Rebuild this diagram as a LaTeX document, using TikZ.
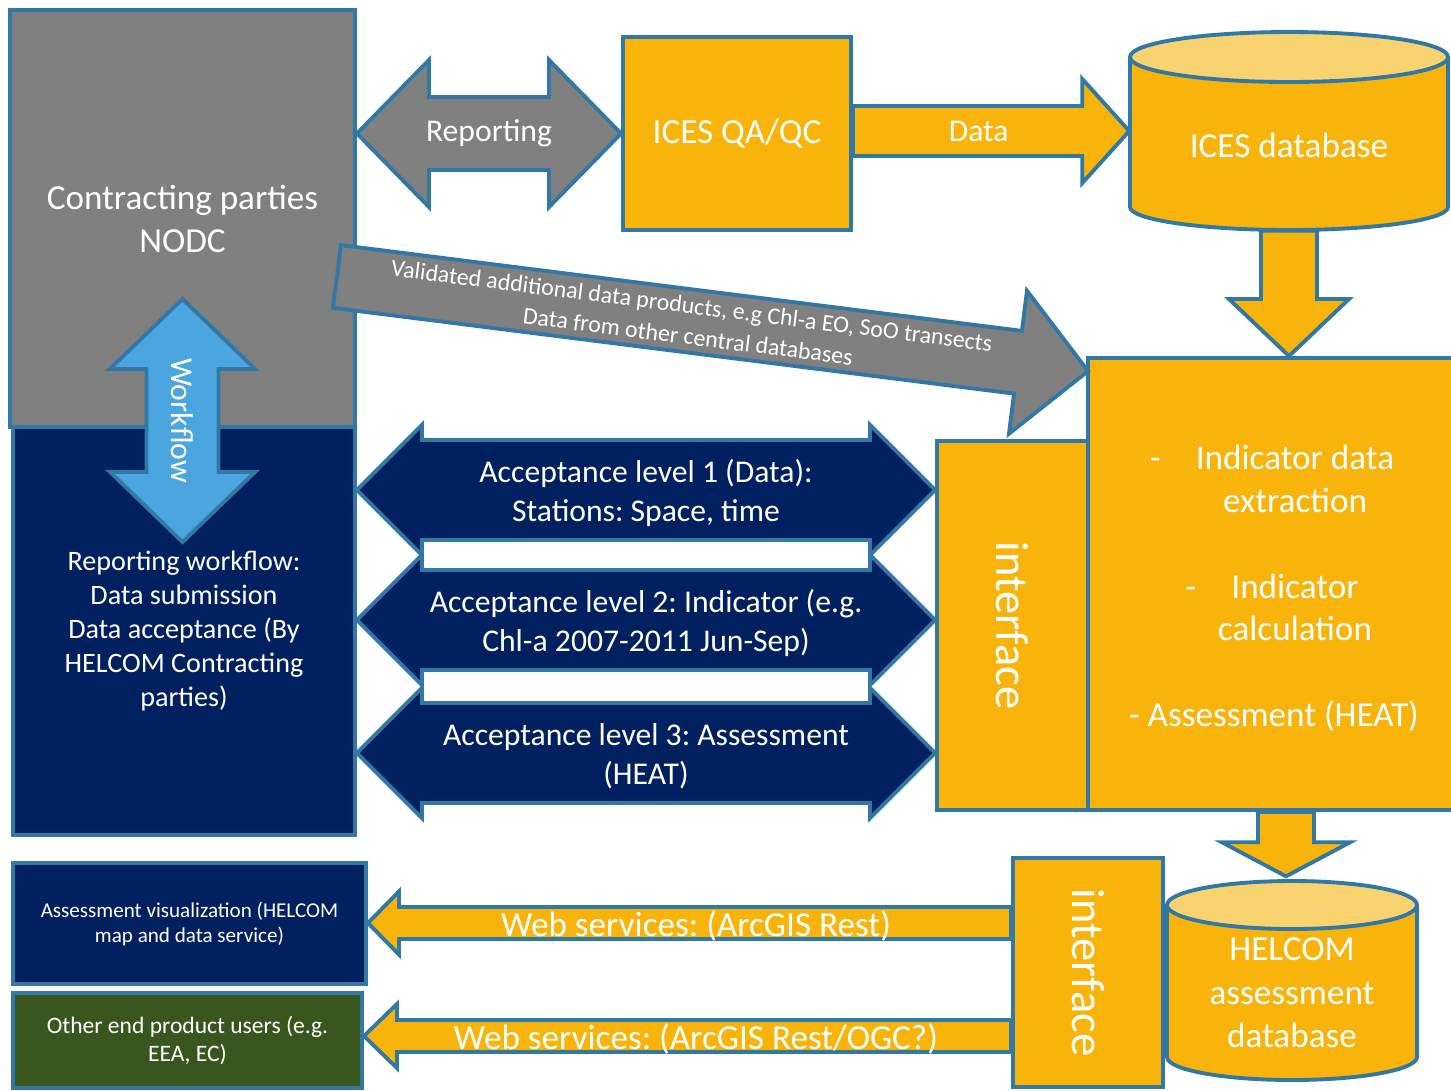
\documentclass[tikz,border=0pt]{standalone}
\usepackage{fontspec}
\setmainfont{Carlito}
\frenchspacing
\usetikzlibrary{calc,fit}

\definecolor{edge}{RGB}{50,120,165}
\definecolor{gold}{RGB}{248,180,10}
\definecolor{goldlight}{RGB}{249,211,112}
\definecolor{navy}{RGB}{0,32,96}
\definecolor{greyfill}{RGB}{128,128,128}
\definecolor{sky}{RGB}{75,165,222}
\definecolor{leaf}{RGB}{56,86,30}

\tikzset{
  box/.style={draw=edge, line width=1.1pt, inner sep=0pt},
  blk/.style={draw=edge, line width=1.1pt, line join=miter},
  lbl/.style={text=white, align=center, inner sep=0pt},
  txtL/.style={font=\fontsize{10}{12.2}\selectfont},
  txtM/.style={font=\fontsize{9}{11.1}\selectfont},
  txtS/.style={font=\fontsize{8}{9.7}\selectfont},
}

% block arrow: [style]{from}{to}{shaft half width}{head half width}{head length}
\newcommand\blockarrow[6][]{%
  \path ($(#3)!#6!(#2)$) coordinate (ba-hb);
  \draw[blk,#1] ($(#2)!#4!90:(#3)$) -- ($(ba-hb)!#4!90:(#3)$)
    -- ($(ba-hb)!#5!90:(#3)$) -- (#3) -- ($(ba-hb)!#5!-90:(#3)$)
    -- ($(ba-hb)!#4!-90:(#3)$) -- ($(#2)!#4!-90:(#3)$) -- cycle;
}
% same with a head at both ends
\newcommand\dblarrow[6][]{%
  \path ($(#2)!#6!(#3)$) coordinate (da-a) ($(#3)!#6!(#2)$) coordinate (da-b);
  \draw[blk,#1] (#2) -- ($(da-a)!#5!90:(#3)$) -- ($(da-a)!#4!90:(#3)$)
    -- ($(da-b)!#4!90:(#3)$) -- ($(da-b)!#5!90:(#3)$) -- (#3)
    -- ($(da-b)!#5!-90:(#3)$) -- ($(da-b)!#4!-90:(#3)$)
    -- ($(da-a)!#4!-90:(#3)$) -- ($(da-a)!#5!-90:(#3)$) -- cycle;
}

\begin{document}
\begin{tikzpicture}[x=0.01cm, y=-0.01cm]
  \useasboundingbox[fill=white] (0,0) rectangle (1451,1090);

  % boxes
  \node[box, fill=greyfill, fit={(10,10) (355,427)}] (nodc) {};
  \node[lbl, txtL] (nodc-lbl) at (nodc) {Contracting parties\\NODC};
  \node[box, fill=navy, fit={(13,427) (355,835)}] (rwf) {};
  \node[lbl, txtS] (rwf-lbl) at (rwf) {Reporting workflow:\\Data submission\\Data acceptance (By\\HELCOM Contracting\\parties)};
  \node[box, fill=gold, fit={(623,37) (851,230)}] (qaqc) {};
  \node[lbl, txtL] (qaqc-lbl) at (qaqc) {ICES QA/QC};
  \node[box, fill=gold, fit={(1088,358) (1502,810)}] (calc) {};
  \node[lbl, txtL, yshift=-1.2pt] (calc-lbl) at (calc) {\llap{-\hspace{10pt}}Indicator data\\extraction\\\strut\\\llap{-\hspace{10pt}}Indicator\\calculation\\\strut\\- Assessment (HEAT)\hspace*{12pt}};
  \node[box, fill=gold, fit={(937,441) (1088,810)}] (iface1) {};
  \node[lbl, rotate=-90, font=\fontsize{13.2}{16}\selectfont] (iface1-lbl) at (iface1) {interface};

  % ICES database
  \node[inner sep=0pt, fit={(1130,32) (1448,230)}] (icesdb) {};
  \draw[blk, fill=gold] (1130,57) -- (1130,207) arc[start angle=180, end angle=0, x radius=159, y radius=23] -- (1448,57);
  \draw[blk, fill=goldlight] (1289,57) ellipse [x radius=159, y radius=25];
  \node[lbl, txtL] (icesdb-lbl) at (1289,145) {ICES database};

  % top arrows
  \coordinate (rep-a) at (nodc.east |- qaqc.west);
  \coordinate (rep-b) at (qaqc.west);
  \dblarrow[fill=greyfill]{rep-a}{rep-b}{0.365cm}{0.735cm}{0.72cm}
  \path (rep-a) -- node[lbl, txtM] (rep-lbl) {Reporting} (rep-b);

  \coordinate (data-a) at (qaqc.east |- icesdb.west);
  \coordinate (data-b) at (icesdb.west);
  \blockarrow[fill=gold]{data-a}{data-b}{0.25cm}{0.52cm}{0.47cm}
  \path (data-a) -- node[lbl, txtM, pos=0.455] (data-lbl) {Data} (data-b);

  \coordinate (dn1-a) at (icesdb.south);
  \coordinate (dn1-b) at (icesdb.south |- calc.north);
  \blockarrow[fill=gold]{dn1-a}{dn1-b}{0.28cm}{0.6cm}{0.57cm}

  \coordinate (val-a) at ($(nodc.east)+(-20,58)$);
  \coordinate (val-b) at ($(calc.north west)+(2,15)$);
  \blockarrow[fill=greyfill]{val-a}{val-b}{0.316cm}{0.72cm}{0.706cm}
  \path (val-a) -- node[lbl, sloped, pos=0.47, font=\fontsize{6.8}{8.8}\selectfont] (val-lbl) {Validated additional data products, e.g Chl-a EO, SoO transects\\Data from other central databases} (val-b);

  \coordinate (wf-a) at ($(nodc.south)+(0,-130)$);
  \coordinate (wf-b) at ($(nodc.south)+(0,113)$);
  \dblarrow[fill=sky]{wf-a}{wf-b}{0.36cm}{0.725cm}{0.70cm}
  \path (wf-a) -- node[lbl, txtM, rotate=-90] (wf-lbl) {Workflow} (wf-b);

  % acceptance levels
  \foreach \y/\txt [count=\i] in {490/{Acceptance level 1 (Data):\\Stations: Space, time},
      620/{Acceptance level 2: Indicator (e.g.\\Chl-a 2007-2011 Jun-Sep)},
      753/{Acceptance level 3: Assessment\\(HEAT)}}{
    \coordinate (acc\i-a) at (rwf.east |- 0,\y);
    \coordinate (acc\i-b) at (iface1.west |- 0,\y);
    \dblarrow[fill=navy]{acc\i-a}{acc\i-b}{0.50cm}{0.65cm}{0.65cm}
    \path (acc\i-a) -- node[lbl, txtM, yshift=-0.8pt] (acc\i-lbl) {\txt} (acc\i-b);
  }

  % end products
  \node[box, fill=navy, fit={(13,863) (366,984)}] (vis) {};
  \node[lbl, font=\fontsize{6}{7.1}\selectfont] (vis-lbl) at (vis) {Assessment visualization (HELCOM\\map and data service)};
  \node[box, fill=leaf, fit={(13,993) (362,1088)}] (other) {};
  \node[lbl, font=\fontsize{6.7}{8}\selectfont] (other-lbl) at (other) {Other end product users (e.g.\\EEA, EC)};
  \node[box, fill=gold, fit={(1013,858) (1163,1087)}] (iface2) {};
  \node[lbl, rotate=-90, font=\fontsize{13.2}{16}\selectfont] (iface2-lbl) at (iface2) {interface};

  % HELCOM assessment database
  \node[inner sep=0pt, fit={(1167,880) (1417,1080)}] (helcomdb) {};
  \draw[blk, fill=gold] (1167,905) -- (1167,1057) arc[start angle=180, end angle=0, x radius=125, y radius=23] -- (1417,905);
  \draw[blk, fill=goldlight] (1292,905) ellipse [x radius=125, y radius=24];
  \node[lbl, font=\fontsize{10}{12.4}\selectfont] (helcomdb-lbl) at (1292,993) {HELCOM\\assessment\\database};

  \coordinate (dn2-b) at ($(helcomdb.north)+(-6,-3)$);
  \coordinate (dn2-a) at (dn2-b |- calc.south);
  \blockarrow[fill=gold]{dn2-a}{dn2-b}{0.28cm}{0.64cm}{0.34cm}

  \coordinate (web1-a) at (iface2.west |- 0,923);
  \coordinate (web1-b) at (vis.east |- 0,923);
  \blockarrow[fill=gold]{web1-a}{web1-b}{0.16cm}{0.315cm}{0.31cm}
  \path (web1-a) -- node[lbl, txtL, pos=0.49, yshift=-0.8pt] (web1-lbl) {Web services: (ArcGIS Rest)} (web1-b);

  \coordinate (web2-a) at (iface2.west |- 0,1036);
  \coordinate (web2-b) at (other.east |- 0,1036);
  \blockarrow[fill=gold]{web2-a}{web2-b}{0.16cm}{0.32cm}{0.33cm}
  \path (web2-a) -- node[lbl, txtL, pos=0.487, yshift=-0.8pt] (web2-lbl) {Web services: (ArcGIS Rest/OGC?)} (web2-b);
\end{tikzpicture}
\end{document}
